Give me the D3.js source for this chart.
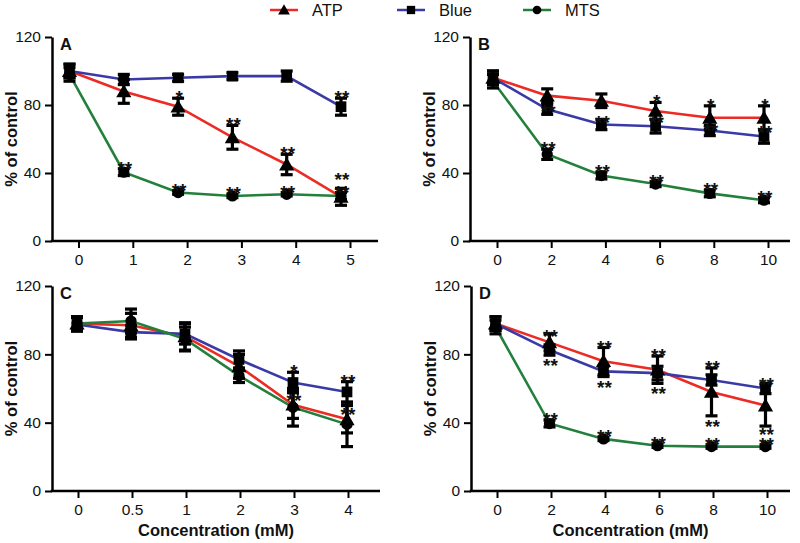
<!DOCTYPE html>
<html>
<head>
<meta charset="utf-8">
<script src="https://cdn.jsdelivr.net/npm/d3@7"></script>
<style>
  html, body { margin: 0; padding: 0; background: #fff; }
  svg { display: block; font-family: "Liberation Sans", Arial, Helvetica, sans-serif; }
</style>
</head>
<body>
<svg id="chart" width="800" height="543"></svg>
<script>
// ---------------- DATA ----------------
const seriesNames = ["ATP", "Blue", "MTS"];
const yTicks = [0, 40, 80, 120];

// Panel A
const concA = ["0", "1", "2", "3", "4", "5"];
const atpA = [100, 88, 79, 61, 45, 26];
const atpErrA = [4, 7, 5, 7, 6, 5];
const blueA = [100, 95, 96, 97, 97, 79];
const blueErrA = [4, 3, 2, 2, 3, 5];
const mtsA = [98, 40.5, 28.5, 26.5, 27.5, 26.5];
const mtsErrA = [4, 2, 1, 1, 1, 2];
// [series, index, text, side, level]
const starsA = [
  ["Blue", 5, "**", "above", 0],
  ["ATP", 2, "*", "above", 0], ["ATP", 3, "**", "above", 0], ["ATP", 4, "**", "above", 0], ["ATP", 5, "**", "above", 1.1],
  ["MTS", 1, "**", "above", 0], ["MTS", 2, "**", "above", 0], ["MTS", 3, "**", "above", 0], ["MTS", 4, "**", "above", 0], ["MTS", 5, "**", "above", 0]
];

// Panel B
const concB = ["0", "2", "4", "6", "8", "10"];
const atpB = [96, 85.5, 82.5, 76.5, 72.5, 72.5];
const atpErrB = [4, 4, 4, 5, 7, 7];
const blueB = [96, 77.5, 68.5, 67.5, 65, 61.5];
const blueErrB = [4, 3, 3, 4, 3, 4];
const mtsB = [94, 51, 38.5, 33.5, 28, 24];
const mtsErrB = [4, 3, 2, 1.5, 2, 1.5];
const starsB = [
  ["ATP", 3, "*", "above", 0], ["ATP", 4, "*", "above", 0], ["ATP", 5, "*", "above", 0],
  ["Blue", 1, "**", "above", -1], ["Blue", 2, "**", "above", -0.4], ["Blue", 3, "**", "above", -0.4], ["Blue", 4, "**", "above", -0.7], ["Blue", 5, "**", "above", -0.4],
  ["MTS", 1, "**", "above", 0], ["MTS", 2, "**", "above", 0], ["MTS", 3, "**", "above", 0], ["MTS", 4, "**", "above", 0], ["MTS", 5, "**", "above", 0]
];

// Panel C
const concC = ["0", "0.5", "1", "2", "3", "4"];
const atpC = [98, 97, 90.5, 73, 50.5, 42];
const atpErrC = [4, 7, 8, 7, 8, 8];
const blueC = [97.5, 93, 92, 77, 63.5, 58];
const blueErrC = [4, 4, 6, 5, 6, 6];
const mtsC = [98, 99.5, 89, 67.5, 49, 39];
const mtsErrC = [4, 7, 7, 4, 11, 13];
const starsC = [
  ["Blue", 4, "*", "above", 0], ["Blue", 5, "**", "above", 0],
  ["ATP", 4, "**", "above", -1.2], ["ATP", 5, "**", "above", -1.2]
];

// Panel D
const concD = ["0", "2", "4", "6", "8", "10"];
const atpD = [98, 87, 76, 71, 58, 50];
const atpErrD = [4, 5, 8, 8, 14, 12];
const blueD = [98, 82.5, 70, 69, 65, 60];
const blueErrD = [4, 3, 3, 4, 3, 3];
const mtsD = [96, 39.5, 30.5, 26.5, 26, 26];
const mtsErrD = [4, 2, 1, 1, 1, 1];
const starsD = [
  ["ATP", 1, "**", "above", -0.4], ["ATP", 2, "**", "above", 0], ["ATP", 3, "**", "above", 0], ["ATP", 4, "**", "above", 0], ["ATP", 5, "**", "above", 0],
  ["Blue", 1, "**", "below", 0], ["Blue", 2, "**", "below", 0], ["Blue", 3, "**", "below", 0.4],
  ["ATP", 4, "**", "below", 0], ["ATP", 5, "**", "below", -0.2],
  ["MTS", 1, "**", "above", 0], ["MTS", 2, "**", "above", 0], ["MTS", 3, "**", "above", 0], ["MTS", 4, "**", "above", 0], ["MTS", 5, "**", "above", 0]
];

// ---------------- STYLE / LAYOUT ----------------
const colors = { ATP: "#ec2b25", Blue: "#3a3aa6", MTS: "#23803c" };
const markerType = { ATP: d3.symbolTriangle, Blue: d3.symbolSquare, MTS: d3.symbolCircle };
const markerSize = { ATP: 100, Blue: 115, MTS: 100 };

const panels = [
  { label: "A", cats: concA, vals: [atpA, blueA, mtsA], errs: [atpErrA, blueErrA, mtsErrA], stars: starsA,
    axisL: 52, axisR: 378, x0: 78.5, step: 54.3, shift: -9, top: 37, bottom: 241, xTitle: false },
  { label: "B", cats: concB, vals: [atpB, blueB, mtsB], errs: [atpErrB, blueErrB, mtsErrB], stars: starsB,
    axisL: 470, axisR: 790, x0: 497, step: 54.2, shift: -4, top: 37, bottom: 241, xTitle: false },
  { label: "C", cats: concC, vals: [atpC, blueC, mtsC], errs: [atpErrC, blueErrC, mtsErrC], stars: starsC,
    axisL: 52, axisR: 380, x0: 78, step: 54, shift: -1, top: 286, bottom: 491, xTitle: true },
  { label: "D", cats: concD, vals: [atpD, blueD, mtsD], errs: [atpErrD, blueErrD, mtsErrD], stars: starsD,
    axisL: 471, axisR: 790, x0: 497, step: 54, shift: -1.5, top: 286, bottom: 491, xTitle: true }
];

const svg = d3.select("#chart");

// ---------------- LEGEND ----------------
const legendX = [270, 397, 523];
const legend = svg.append("g");
seriesNames.forEach((s, k) => {
  const g = legend.append("g").attr("transform", `translate(${legendX[k]},10)`);
  g.append("line").attr("x1", 0).attr("x2", 28).attr("y1", 0).attr("y2", 0)
    .attr("stroke", colors[s]).attr("stroke-width", 2.5);
  g.append("path").attr("d", d3.symbol().type(markerType[s]).size(markerSize[s] * 0.6)())
    .attr("transform", `translate(14,${s === "ATP" ? 1 : 0})`).attr("fill", "#000");
  g.append("text").attr("x", 42).attr("y", 6).attr("font-size", 16.5).attr("fill", "#111").text(s);
});

// ---------------- PANELS ----------------
panels.forEach(p => {
  const g = svg.append("g");
  const n = p.cats.length;
  const idx = d3.range(n);
  const y = d3.scaleLinear().domain([0, 120]).range([p.bottom, p.top]);
  const x = d3.scaleLinear().domain([0, n - 1]).range([p.x0, p.x0 + (n - 1) * p.step]);
  const xd = x.copy().range(x.range().map(v => v + p.shift));

  // y axis
  const ya = g.append("g").attr("transform", `translate(${p.axisL},0)`)
    .call(d3.axisLeft(y).tickValues(yTicks).tickSize(7).tickSizeOuter(0).tickPadding(4));
  ya.select(".domain").attr("stroke", "#000").attr("stroke-width", 2.5);
  ya.selectAll(".tick line").attr("stroke", "#000").attr("stroke-width", 2);
  ya.selectAll(".tick text").attr("font-size", 15.5).attr("fill", "#111").attr("font-family", null);

  // x axis
  const xa = g.append("g").attr("transform", `translate(0,${p.bottom})`)
    .call(d3.axisBottom(x).tickValues(idx).tickFormat(i => p.cats[i]).tickSize(7).tickSizeOuter(0).tickPadding(6));
  xa.select(".domain").remove();
  xa.selectAll(".tick line").attr("stroke", "#000").attr("stroke-width", 2);
  xa.selectAll(".tick text").attr("font-size", 15.5).attr("fill", "#111").attr("font-family", null);
  g.append("line").attr("x1", p.axisL - 1.25).attr("x2", p.axisR).attr("y1", p.bottom).attr("y2", p.bottom)
    .attr("stroke", "#000").attr("stroke-width", 2.5);

  // titles
  g.append("text").attr("transform", `translate(${p.axisL - 35},${(p.top + p.bottom) / 2}) rotate(-90)`)
    .attr("text-anchor", "middle").attr("font-size", 16.5).attr("font-weight", "bold").attr("fill", "#111")
    .text("% of control");
  if (p.xTitle) {
    g.append("text").attr("x", (p.axisL + p.axisR) / 2).attr("y", p.bottom + 45)
      .attr("text-anchor", "middle").attr("font-size", 16.5).attr("font-weight", "bold").attr("fill", "#111")
      .text("Concentration (mM)");
  }
  g.append("text").attr("x", p.axisL + 8).attr("y", p.top + 13)
    .attr("font-size", 16.5).attr("font-weight", "bold").attr("fill", "#111").text(p.label);

  // lines
  const line = d3.line().x(d => xd(d[0])).y(d => y(d[1]));
  seriesNames.forEach((s, k) => {
    g.append("path").datum(idx.map(i => [i, p.vals[k][i]]))
      .attr("d", line).attr("fill", "none").attr("stroke", colors[s]).attr("stroke-width", 2.6);
  });

  // error bars
  seriesNames.forEach((s, k) => {
    const eg = g.append("g").attr("stroke", "#000").attr("stroke-width", 3.2);
    idx.forEach(i => {
      const v = p.vals[k][i], e = p.errs[k][i], cx = xd(i);
      eg.append("line").attr("x1", cx).attr("x2", cx).attr("y1", y(v - e)).attr("y2", y(v + e));
      eg.append("line").attr("x1", cx - 6).attr("x2", cx + 6).attr("y1", y(v - e)).attr("y2", y(v - e));
      eg.append("line").attr("x1", cx - 6).attr("x2", cx + 6).attr("y1", y(v + e)).attr("y2", y(v + e));
    });
  });

  // markers
  seriesNames.forEach((s, k) => {
    g.append("g").selectAll("path").data(idx).join("path")
      .attr("d", d3.symbol().type(markerType[s]).size(markerSize[s])())
      .attr("transform", i => `translate(${xd(i)},${y(p.vals[k][i]) + (s === "ATP" ? 1.5 : 0)})`)
      .attr("fill", "#000");
  });

  // significance stars
  p.stars.forEach(([s, i, t, side, level]) => {
    const k = seriesNames.indexOf(s);
    const v = p.vals[k][i], e = p.errs[k][i];
    let cy;
    if (side === "above") cy = y(v + e) - 5 - level * 8;
    else cy = y(v - e) + 6 + level * 8;
    g.append("text").attr("x", xd(i) + 1).attr("y", cy + 11)
      .attr("text-anchor", "middle").attr("font-size", 19).attr("font-weight", "bold").attr("fill", "#111").text(t);
  });
});
</script>
</body>
</html>
